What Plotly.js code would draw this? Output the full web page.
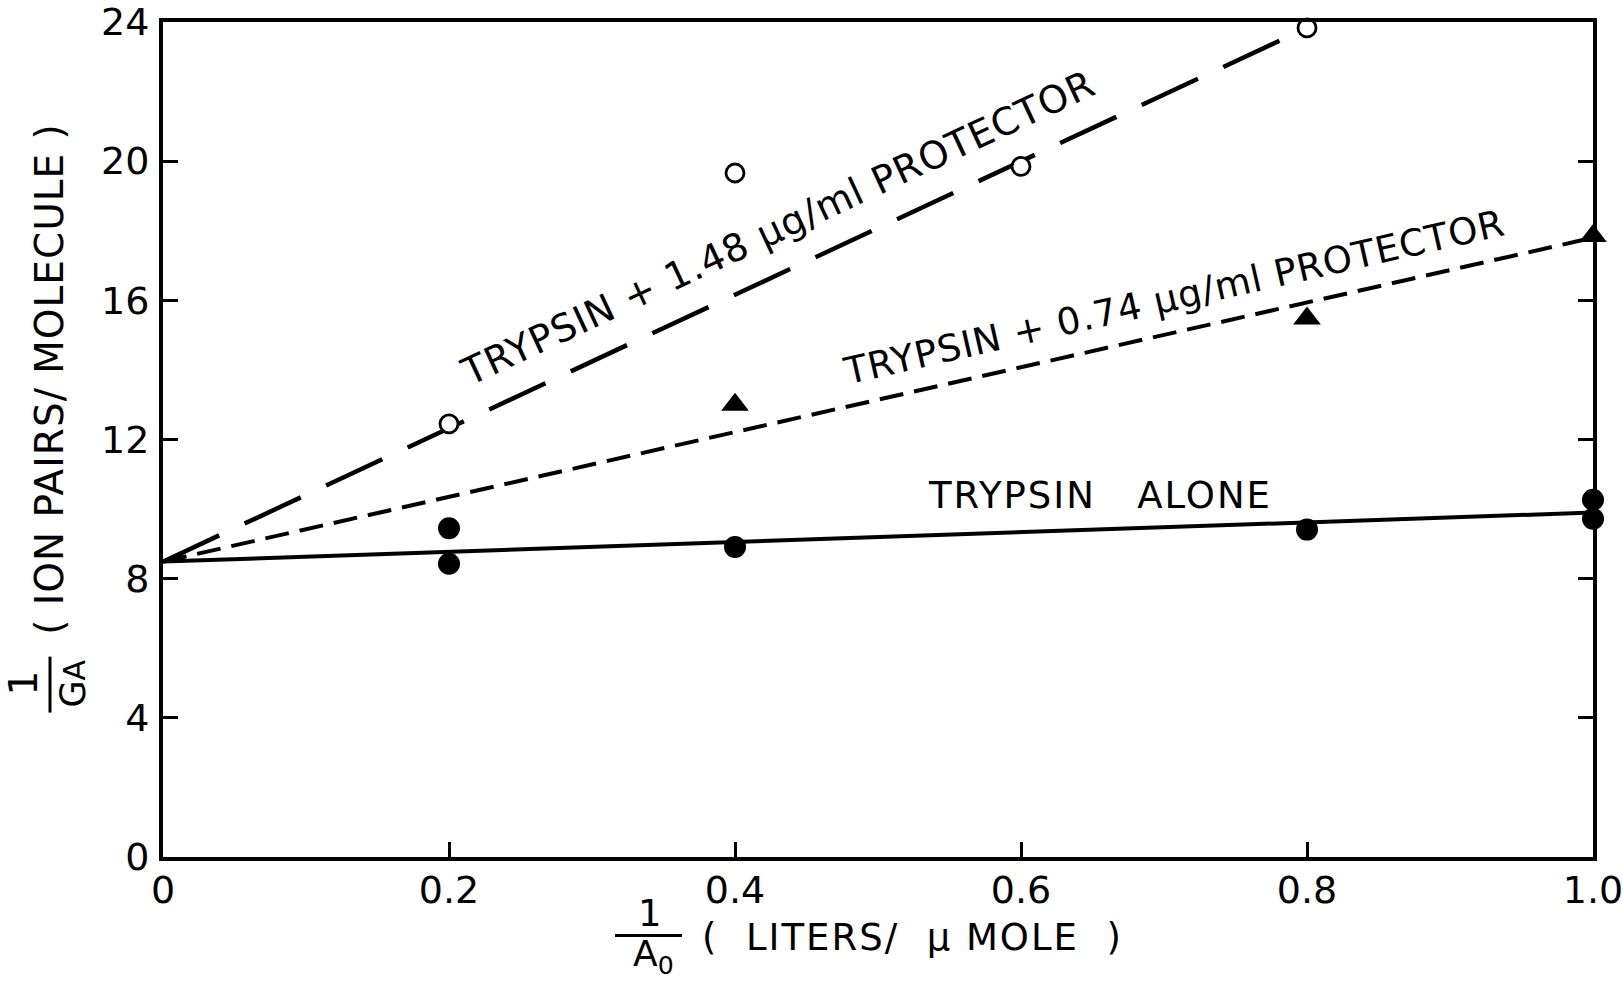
<!DOCTYPE html>
<html>
<head>
<meta charset="utf-8">
<script src="https://cdn.plot.ly/plotly-3.0.1.min.js"></script>
<style>
  html, body { margin: 0; padding: 0; background: #fff; }
  #chart { width: 1623px; height: 985px; }
</style>
</head>
<body>
<div id="chart"></div>
<script>
// ---- data ----
const xTicks = [0, 0.2, 0.4, 0.6, 0.8, 1.0];
const xTickLabels = ['0', '0.2', '0.4', '0.6', '0.8', '1.0'];
const yTicks = [0, 4, 8, 12, 16, 20, 24];
const yTickLabels = ['0', '4', '8', '12', '16', '20', '24'];

// Trypsin + 1.48 ug/ml protector (open circles)
const xProt148 = [0.2, 0.4, 0.6, 0.8];
const yProt148 = [12.45, 19.66, 19.85, 23.83];
// Trypsin + 0.74 ug/ml protector (filled triangles)
const xProt074 = [0.4, 0.8, 1.0];
const yProt074 = [13.0, 15.48, 17.85];
// Trypsin alone (filled circles)
const xAlone = [0.2, 0.2, 0.4, 0.8, 1.0, 1.0];
const yAlone = [9.45, 8.43, 8.91, 9.41, 10.27, 9.72];

// drawn straight lines (end points)
const fitX148 = [0, 0.8];
const fitY148 = [8.49, 23.83];
const fitX074 = [0, 1.0];
const fitY074 = [8.49, 17.8];
const fitXAlone = [0, 1.0];
const fitYAlone = [8.49, 9.9];

// ---- layout helpers ----
const W = 1623, H = 985;
const L = 163, R = 1593, T = 22, B = 857.5;
const px = x => (x - L) / (R - L);
const py = y => (B - y) / (B - T);
const FONT = 'DejaVu Sans, Liberation Sans, sans-serif';

const traces = [
  { x: fitX148, y: fitY148, mode: 'lines', line: { color: '#000', width: 4.5, dash: '62px,28px' }, hoverinfo: 'skip', cliponaxis: false },
  { x: fitX074, y: fitY074, mode: 'lines', line: { color: '#000', width: 4, dash: '24px,11px' }, hoverinfo: 'skip', cliponaxis: false },
  { x: fitXAlone, y: fitYAlone, mode: 'lines', line: { color: '#000', width: 4 }, hoverinfo: 'skip', cliponaxis: false },
  { x: xProt148, y: yProt148, mode: 'markers', cliponaxis: false,
    marker: { symbol: 'circle', size: 18, color: '#fff', line: { color: '#000', width: 2.8 } } },
  { x: xProt074, y: yProt074, mode: 'markers', cliponaxis: false,
    marker: { symbol: 'triangle-up', size: 24, color: '#000', line: { width: 0 } } },
  { x: xAlone, y: yAlone, mode: 'markers', cliponaxis: false,
    marker: { symbol: 'circle', size: 22, color: '#000', line: { width: 0 } } }
];

function ann(text, x, y, size, angle, extra) {
  return Object.assign({
    text: text, xref: 'paper', yref: 'paper', x: px(x), y: py(y),
    xanchor: 'center', yanchor: 'middle', showarrow: false,
    textangle: angle || 0, font: { family: FONT, size: size, color: '#000' }
  }, extra || {});
}

const annotations = [
  // curve labels
  ann('<span style="letter-spacing:1px">TRYPSIN + 1.48 μg/ml PROTECTOR</span>', 778, 228, 38, -25),
  ann('<span style="letter-spacing:1px">TRYPSIN + 0.74 μg/ml PROTECTOR</span>', 1174, 298, 37, -12.8),
  ann('<span style="letter-spacing:2px">TRYPSIN   ALONE</span>', 1100, 496, 37, 0),
  // y-axis title
  ann('<span style="letter-spacing:1px">( ION PAIRS/ MOLECULE )</span>', 50, 380, 39, -90),
  ann('1', 24, 684, 39, -90),
  ann('G<span style="font-size:30px">A</span>', 73, 684, 35, -90),
  // x-axis title
  ann('1', 650, 914, 37, 0),
  ann('A<sub>0</sub>', 653, 957, 36, 0),
  ann('<span style="letter-spacing:2px">(  LITERS/  μ MOLE  )</span>', 912, 938, 37, 0)
];

const shapes = [
  { type: 'line', xref: 'paper', yref: 'paper', x0: px(50), x1: px(50), y0: py(657), y1: py(713), line: { color: '#000', width: 3 } },
  { type: 'line', xref: 'paper', yref: 'paper', x0: px(615), x1: px(682), y0: py(936), y1: py(936), line: { color: '#000', width: 3 } }
];

const axisCommon = {
  showgrid: false, zeroline: false, showline: true, linecolor: '#000', linewidth: 4,
  ticks: 'inside', ticklen: 15, tickwidth: 3, tickcolor: '#000',
  tickfont: { family: FONT, size: 38, color: '#000' }, fixedrange: true,
  ticklabeloverflow: 'allow'
};

const layout = {
  width: W, height: H,
  margin: { l: L, r: W - R, t: T, b: H - B, pad: 0 },
  paper_bgcolor: '#fff', plot_bgcolor: '#fff',
  showlegend: false,
  xaxis: Object.assign({}, axisCommon, {
    range: [0, 1], tickmode: 'array', tickvals: xTicks, ticktext: xTickLabels,
    mirror: true, ticklabelstandoff: -4
  }),
  yaxis: Object.assign({}, axisCommon, {
    range: [0, 24], tickmode: 'array', tickvals: yTicks, ticktext: yTickLabels,
    mirror: 'ticks', ticklabelstandoff: 2
  }),
  annotations: annotations,
  shapes: shapes
};

Plotly.newPlot('chart', traces, layout, { staticPlot: true, displayModeBar: false });
</script>
</body>
</html>
